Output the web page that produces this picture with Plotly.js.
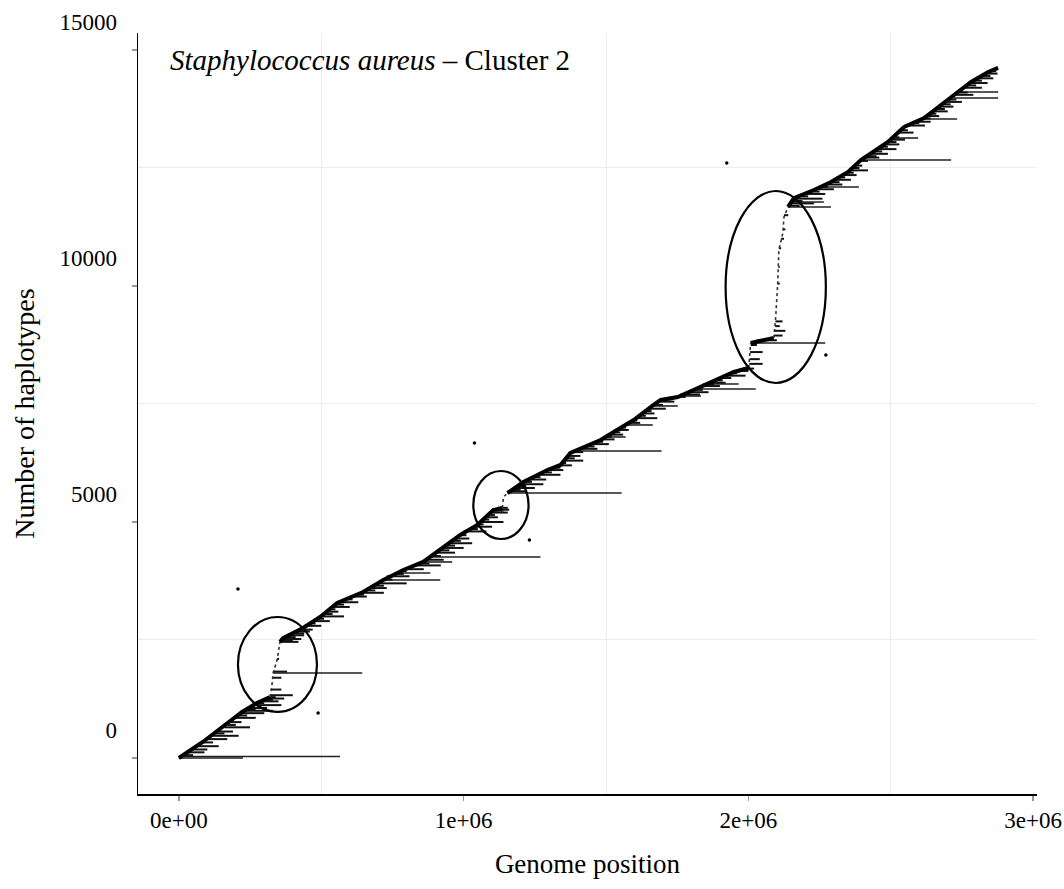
<!DOCTYPE html>
<html>
<head>
<meta charset="utf-8">
<script src="https://cdn.plot.ly/plotly-3.0.1.min.js"></script>
<style>html,body{margin:0;padding:0;background:#fff;}#chart{width:1064px;height:889px;}</style>
</head>
<body>
<div id="chart"></div>
<script>
// ---- Data (genome position in bp, haplotype count) ----
// Dense parts of the haplotype track (lower-left edge of the staircase)
const trackA_pos = [0, 84000, 222000, 274000, 320000];
const trackA_hap = [0, 339, 975, 1165, 1292];
const trackB_pos = [355000, 366000, 436000, 496000, 556000, 647000, 718000, 788000, 858000, 893000, 988000, 1048000, 1104000, 1136000];
const trackB_hap = [2458, 2542, 2754, 2987, 3284, 3517, 3771, 3983, 4153, 4301, 4725, 4936, 5254, 5297];
const trackC_pos = [1154000, 1210000, 1294000, 1340000, 1375000, 1421000, 1481000, 1527000, 1597000, 1667000, 1692000, 1752000, 1808000, 1878000, 1949000, 2001000];
const trackC_hap = [5614, 5847, 6102, 6208, 6462, 6589, 6737, 6907, 7161, 7479, 7585, 7649, 7797, 7987, 8178, 8263];
const trackE_pos = [2008000, 2050000, 2089000];
const trackE_hap = [8792, 8840, 8898];
const trackD_pos = [2139000, 2160000, 2230000, 2290000, 2350000, 2395000, 2490000, 2547000, 2617000, 2677000, 2737000, 2782000, 2842000, 2877000];
const trackD_hap = [11674, 11864, 12034, 12203, 12415, 12669, 13051, 13369, 13559, 13835, 14110, 14322, 14534, 14619];

// Sparse (jump) parts of the track
const jump1_pos = [320000, 327000, 331000, 345000, 355000];
const jump1_hap = [1292, 1547, 1801, 2076, 2458];
const jump2_pos = [1136000, 1140000, 1154000];
const jump2_hap = [5297, 5530, 5614];
const jump4_pos = [2001000, 2004000, 2008000];
const jump4_hap = [8263, 8500, 8792];
const jump3_pos = [2089000, 2096000, 2103000, 2107000, 2121000, 2125000, 2139000];
const jump3_hap = [8898, 9343, 10063, 10763, 11123, 11462, 11674];

// Long haplotype segments: haplotype index, start, end
const longHap   = [0, 30, 1801, 3771, 3920, 4153, 4259, 5614, 6504, 6801, 7055, 7458, 7669, 7818, 7924, 8792, 11674, 11780, 12097, 12669, 13135, 13538, 13983, 14110];
const longStart = [0, 0, 331000, 718000, 760000, 858000, 880000, 1154000, 1400000, 1500000, 1560000, 1660000, 1750000, 1810000, 1840000, 2008000, 2139000, 2150000, 2250000, 2395000, 2510000, 2617000, 2720000, 2737000];
const longEnd   = [225000, 566000, 644000, 918000, 883000, 960000, 1270000, 1555000, 1695000, 1569000, 1664000, 1752000, 1833000, 2026000, 1966000, 2270000, 2290000, 2265000, 2388000, 2712000, 2596000, 2733000, 2877000, 2877000];

// Short haplotype segments ("teeth") along the track
const shortHap = [120, 250, 400, 470, 560, 650, 760, 850, 950, 1000, 1060, 1120, 1200, 1260, 1330, 1450, 1700, 1830, 2100,
  2460, 2520, 2600, 2680, 2800, 2900, 3000, 3100, 3200, 3300, 3420, 3500, 3600, 3700, 3850, 4000, 4080, 4200, 4350, 4450, 4550, 4650, 4800, 4900, 5000, 5100, 5200, 5260, 5300,
  5650, 5720, 5800, 5900, 6000, 6100, 6200, 6300, 6400, 6550, 6650, 6750, 6850, 6950, 7100, 7200, 7300, 7400, 7550, 7700, 7750, 7880, 7950, 8050, 8100, 8200, 8250,
  8350, 8450, 8600, 8750, 8850, 8950, 9050, 9150, 9250, 10050, 10400, 10800, 11000, 11200, 11500,
  11750, 11850, 11950, 12050, 12150, 12250, 12350, 12450, 12550, 12720, 12800, 12900, 13000, 13100, 13250, 13400, 13480, 13600, 13700, 13800, 13900, 14050, 14200, 14300, 14400, 14500];
const shortStart = [30000, 60000, 100000, 120000, 140000, 160000, 180000, 200000, 220000, 230000, 250000, 260000, 290000, 310000, 320000, 325000, 330000, 332000, 345000,
  355000, 360000, 390000, 420000, 440000, 470000, 500000, 520000, 540000, 560000, 600000, 640000, 670000, 700000, 730000, 790000, 820000, 870000, 900000, 930000, 950000, 970000, 1000000, 1040000, 1060000, 1080000, 1100000, 1100000, 1120000,
  1160000, 1180000, 1200000, 1230000, 1260000, 1290000, 1330000, 1350000, 1370000, 1410000, 1440000, 1480000, 1510000, 1530000, 1580000, 1600000, 1630000, 1650000, 1690000, 1760000, 1790000, 1830000, 1860000, 1900000, 1920000, 1950000, 1980000,
  2003000, 2004000, 2006000, 2008000, 2030000, 2090000, 2093000, 2094000, 2095000, 2103000, 2105000, 2107000, 2115000, 2121000, 2125000,
  2145000, 2160000, 2200000, 2230000, 2270000, 2300000, 2330000, 2350000, 2370000, 2400000, 2430000, 2450000, 2480000, 2500000, 2520000, 2550000, 2580000, 2620000, 2650000, 2670000, 2690000, 2730000, 2760000, 2780000, 2810000, 2840000];
const shortEnd = [90000, 140000, 170000, 210000, 190000, 250000, 220000, 270000, 300000, 330000, 310000, 360000, 350000, 370000, 400000, 360000, 360000, 380000, 352000,
  420000, 430000, 440000, 460000, 500000, 530000, 580000, 560000, 600000, 630000, 660000, 720000, 730000, 800000, 810000, 860000, 920000, 930000, 970000, 1000000, 1030000, 1020000, 1080000, 1100000, 1140000, 1120000, 1155000, 1160000, 1155000,
  1220000, 1250000, 1280000, 1290000, 1340000, 1350000, 1380000, 1420000, 1410000, 1470000, 1510000, 1530000, 1560000, 1580000, 1620000, 1680000, 1670000, 1710000, 1740000, 1830000, 1860000, 1900000, 1920000, 1940000, 1990000, 2000000, 2020000,
  2050000, 2040000, 2050000, 2030000, 2100000, 2120000, 2130000, 2110000, 2120000, 2110000, 2110000, 2115000, 2125000, 2130000, 2140000,
  2230000, 2260000, 2270000, 2300000, 2330000, 2360000, 2380000, 2420000, 2400000, 2460000, 2490000, 2520000, 2530000, 2550000, 2580000, 2620000, 2640000, 2670000, 2700000, 2720000, 2750000, 2790000, 2820000, 2840000, 2860000, 2875000];

// Very short haplotype segments filling the dense band
const tinyHap = [60, 180, 330, 520, 700, 900, 1030, 1160, 1230, 1290,
  2490, 2560, 2640, 2720, 2850, 2950, 3050, 3150, 3250, 3360, 3460, 3550, 3650, 3780, 3900, 3960, 4120, 4280, 4400, 4500, 4600, 4720, 4850, 4950, 5050, 5150, 5240,
  5680, 5760, 5850, 5950, 6050, 6150, 6250, 6350, 6480, 6600, 6700, 6800, 6900, 7000, 7150, 7250, 7350, 7480, 7600, 7650, 7800, 7920, 8000, 8150, 8230,
  11700, 11800, 11900, 12000, 12100, 12200, 12300, 12400, 12500, 12650, 12750, 12850, 12950, 13050, 13150, 13300, 13450, 13550, 13650, 13750, 13850, 13950, 14100, 14250, 14350, 14450, 14550];
const tinyStart = [15000, 45000, 80000, 130000, 170000, 210000, 240000, 275000, 300000, 318000,
  357000, 370000, 410000, 430000, 455000, 485000, 510000, 530000, 550000, 580000, 620000, 655000, 690000, 720000, 760000, 780000, 850000, 890000, 920000, 940000, 960000, 985000, 1020000, 1050000, 1070000, 1090000, 1100000,
  1170000, 1190000, 1210000, 1250000, 1280000, 1310000, 1340000, 1360000, 1390000, 1430000, 1460000, 1500000, 1520000, 1550000, 1590000, 1620000, 1640000, 1667000, 1700000, 1750000, 1810000, 1850000, 1880000, 1940000, 1970000,
  2140000, 2155000, 2170000, 2220000, 2250000, 2290000, 2310000, 2345000, 2360000, 2390000, 2420000, 2440000, 2465000, 2490000, 2510000, 2530000, 2570000, 2615000, 2635000, 2660000, 2680000, 2700000, 2740000, 2770000, 2790000, 2820000, 2845000];
const tinyEnd = [50000, 100000, 120000, 160000, 200000, 240000, 270000, 300000, 330000, 340000,
  400000, 410000, 440000, 470000, 480000, 510000, 540000, 550000, 580000, 610000, 650000, 690000, 720000, 750000, 790000, 800000, 880000, 920000, 950000, 970000, 990000, 1010000, 1050000, 1070000, 1090000, 1110000, 1140000,
  1200000, 1220000, 1240000, 1270000, 1310000, 1340000, 1360000, 1390000, 1420000, 1460000, 1490000, 1520000, 1550000, 1570000, 1610000, 1640000, 1660000, 1700000, 1730000, 1780000, 1840000, 1880000, 1910000, 1960000, 1990000,
  2180000, 2190000, 2210000, 2250000, 2280000, 2320000, 2340000, 2370000, 2390000, 2420000, 2450000, 2470000, 2490000, 2520000, 2530000, 2560000, 2600000, 2640000, 2660000, 2690000, 2710000, 2730000, 2770000, 2800000, 2820000, 2850000, 2870000];

// Isolated short haplotypes (dots)
const dotPos = [207500, 489000, 1038000, 1231000, 1924000, 2272000];
const dotHap = [3581, 953, 6674, 4619, 12606, 8538];

// Highlighted regions (ellipses): x range and y range
const ellX0 = [207500, 1034000, 1920000];
const ellX1 = [485000, 1228000, 2272000];
const ellY0 = [975, 4640, 7945];
const ellY1 = [2987, 6080, 12012];

// Axis ticks
const xTickVals = [0, 1000000, 2000000, 3000000];
const xTickText = ['0e+00', '1e+06', '2e+06', '3e+06'];
const yTickVals = [0, 5000, 10000, 15000];
const yTickText = ['0', '5000', '10000', '15000'];
const xGridVals = [500000, 1500000, 2500000];
const yGridVals = [2500, 7500, 12500];

// ---- Build traces ----
function segs(hap, x0, x1) {
  const xs = [], ys = [];
  for (let i = 0; i < hap.length; i++) {
    xs.push(x0[i], x1[i], null);
    ys.push(hap[i], hap[i], null);
  }
  return {x: xs, y: ys};
}
const longS = segs(longHap, longStart, longEnd);
const shortS = segs(shortHap, shortStart, shortEnd);
const tinyS = segs(tinyHap, tinyStart, tinyEnd);

const traces = [];
traces.push({x: longS.x, y: longS.y, mode: 'lines', line: {color: '#222', width: 1.6}, hoverinfo: 'skip', showlegend: false});
traces.push({x: shortS.x, y: shortS.y, mode: 'lines', line: {color: '#111', width: 2}, hoverinfo: 'skip', showlegend: false});
traces.push({x: tinyS.x, y: tinyS.y, mode: 'lines', line: {color: '#111', width: 2}, hoverinfo: 'skip', showlegend: false});
[[trackA_pos, trackA_hap], [trackB_pos, trackB_hap], [trackC_pos, trackC_hap], [trackE_pos, trackE_hap], [trackD_pos, trackD_hap]].forEach(function (t) {
  traces.push({x: t[0], y: t[1], mode: 'lines', line: {color: '#000', width: 4}, hoverinfo: 'skip', showlegend: false});
});
[[jump1_pos, jump1_hap], [jump2_pos, jump2_hap], [jump4_pos, jump4_hap], [jump3_pos, jump3_hap]].forEach(function (t) {
  traces.push({x: t[0], y: t[1], mode: 'lines', line: {color: '#333', width: 1.6, dash: 'dot'}, hoverinfo: 'skip', showlegend: false});
});
traces.push({x: dotPos, y: dotHap, mode: 'markers', marker: {color: '#000', size: 3.5}, hoverinfo: 'skip', showlegend: false});

const shapes = ellX0.map(function (v, i) {
  return {type: 'circle', xref: 'x', yref: 'y', x0: ellX0[i], x1: ellX1[i], y0: ellY0[i], y1: ellY1[i],
    line: {color: '#000', width: 2.2}, fillcolor: 'rgba(0,0,0,0)'};
});

const serif = 'Liberation Serif, Times New Roman, serif';
const layout = {
  width: 1064, height: 889,
  margin: {l: 138, r: 27, t: 33, b: 95},
  paper_bgcolor: '#fff', plot_bgcolor: '#fff',
  font: {family: serif, color: '#000'},
  showlegend: false,
  xaxis: {
    range: [-143500, 3013500],
    tickmode: 'array', tickvals: xTickVals, ticktext: xTickText,
    showgrid: false, zeroline: false,
    showline: true, linecolor: '#000', linewidth: 1.5,
    ticks: 'outside', ticklen: 5, tickcolor: '#999', tickwidth: 1.5,
    tickfont: {family: serif, size: 23, color: '#000'},
    minor: {tickmode: 'array', tickvals: xGridVals, showgrid: true, gridcolor: '#ededed', gridwidth: 1, ticks: ''},
    title: {text: 'Genome position', font: {family: serif, size: 27, color: '#000'}, standoff: 22}
  },
  yaxis: {
    range: [-763, 15360],
    tickmode: 'array', tickvals: yTickVals, ticktext: yTickText,
    showgrid: false, zeroline: false,
    showline: true, linecolor: '#000', linewidth: 1.5,
    ticks: 'outside', ticklen: 5, tickcolor: '#999', tickwidth: 1.5,
    ticklabelshift: -28, ticklabelstandoff: 10,
    tickfont: {family: serif, size: 23, color: '#000'},
    minor: {tickmode: 'array', tickvals: yGridVals, showgrid: true, gridcolor: '#ededed', gridwidth: 1, ticks: ''},
    title: {text: 'Number of haplotypes', font: {family: serif, size: 28, color: '#000'}, standoff: 16}
  },
  shapes: shapes,
  annotations: [{
    xref: 'paper', yref: 'paper', x: 0.033, y: 0.9645, xanchor: 'left', yanchor: 'middle',
    text: '<i>Staphylococcus aureus</i> \u2013 Cluster 2', showarrow: false,
    font: {family: serif, size: 29, color: '#000'}
  }]
};

Plotly.newPlot('chart', traces, layout, {displayModeBar: false, staticPlot: true});
</script>
</body>
</html>
